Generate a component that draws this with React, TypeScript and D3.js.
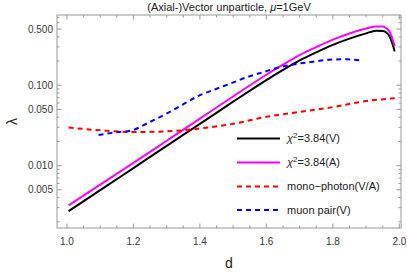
import React, { useEffect } from 'react';
import * as d3 from 'd3';

// chi^2 = 3.84 limit, vector unparticle
const vectorD = [1.005, 1.1, 1.2, 1.3, 1.4, 1.5, 1.6, 1.65, 1.7, 1.75, 1.8, 1.85, 1.9, 1.93, 1.95, 1.96, 1.97, 1.978, 1.986];
const vectorLambda = [0.00272, 0.00495, 0.00933, 0.0176, 0.0331, 0.0625, 0.116, 0.155, 0.204, 0.257, 0.318, 0.38, 0.442, 0.476, 0.472, 0.455, 0.41, 0.34, 0.264];

// chi^2 = 3.84 limit, axial-vector unparticle
const axialD = [1.005, 1.1, 1.2, 1.3, 1.4, 1.5, 1.6, 1.65, 1.7, 1.75, 1.8, 1.85, 1.9, 1.93, 1.95, 1.96, 1.97, 1.978, 1.986];
const axialLambda = [0.0032, 0.0058, 0.0108, 0.0204, 0.0385, 0.0725, 0.135, 0.18, 0.237, 0.298, 0.369, 0.441, 0.508, 0.54, 0.537, 0.515, 0.47, 0.39, 0.305];

// mono-photon (V/A)
const photonD = [1.005, 1.1, 1.2, 1.3, 1.35, 1.4, 1.5, 1.6, 1.7, 1.8, 1.9, 1.986];
const photonLambda = [0.0298, 0.0275, 0.0262, 0.0267, 0.0275, 0.029, 0.0331, 0.0405, 0.0465, 0.0535, 0.0635, 0.069];

// muon pair (V)
const muonD = [1.095, 1.15, 1.196, 1.246, 1.296, 1.347, 1.396, 1.447, 1.492, 1.539, 1.589, 1.639, 1.689, 1.74, 1.789, 1.84, 1.89];
const muonLambda = [0.0241, 0.026, 0.0275, 0.0344, 0.0436, 0.057, 0.0738, 0.0893, 0.105, 0.125, 0.145, 0.167, 0.184, 0.196, 0.208, 0.21, 0.203];

const xMajor = [1.0, 1.2, 1.4, 1.6, 1.8, 2.0];
const xMinor = [1.05, 1.1, 1.15, 1.25, 1.3, 1.35, 1.45, 1.5, 1.55, 1.65, 1.7, 1.75, 1.85, 1.9, 1.95];
const yMajor = [0.005, 0.01, 0.05, 0.1, 0.5];
const yMinor = [0.002, 0.003, 0.004, 0.006, 0.007, 0.008, 0.009, 0.02, 0.03, 0.04, 0.06, 0.07, 0.08, 0.09, 0.2, 0.3, 0.4, 0.6, 0.7];

const series = [
  { label: 'V', d: vectorD, v: vectorLambda, color: '#000000', dash: null },
  { label: 'A', d: axialD, v: axialLambda, color: '#ff00ff', dash: null },
  { label: 'mono-photon', d: photonD, v: photonLambda, color: '#ff0000', dash: '5,4' },
  { label: 'muon', d: muonD, v: muonLambda, color: '#0000ff', dash: '5,4' },
];

const W = 407, H = 274;
const left = 57, right = 401, top = 15, bottom = 228;
const font = '"Liberation Sans", Arial, sans-serif';

export default function App() {
  useEffect(() => {
    document.body.style.margin = '0';
  }, []);

  const x = d3.scaleLinear().domain([0.97, 2.005]).range([left, right]);
  const y = d3.scaleLog().domain([0.001675, 0.748]).range([bottom, top]);

  const line = (ds: number[], vs: number[]) =>
    d3.line<number>()
      .x((_, i) => x(ds[i]))
      .y((v) => y(v))
      .curve(d3.curveMonotoneX)(vs) || '';

  const frame = '#9a9a9a';
  const tickText = '#3c3c3c';

  const legendRows = [
    { color: '#000000', dash: null, text: <><tspan fontStyle="italic">χ</tspan><tspan dy={-4} fontSize={8}>2</tspan><tspan dy={4}>=3.84(V)</tspan></> },
    { color: '#ff00ff', dash: null, text: <><tspan fontStyle="italic">χ</tspan><tspan dy={-4} fontSize={8}>2</tspan><tspan dy={4}>=3.84(A)</tspan></> },
    { color: '#ff0000', dash: '5,4', text: <>mono−photon(V/A)</> },
    { color: '#0000ff', dash: '5,4', text: <>muon pair(V)</> },
  ];
  const legendY = [138.5, 162.5, 186.5, 210];

  return (
    <svg width={W} height={H} style={{ display: 'block', position: 'absolute', left: 0, top: 0, background: '#fff' }} fontFamily={font}>
      <defs>
        <clipPath id="plotClip">
          <rect x={left} y={top} width={right - left} height={bottom - top} />
        </clipPath>
      </defs>

      {/* title */}
      <text x={(left + right) / 2} y={11} textAnchor="middle" fontSize={11} fill="#222">
        (Axial-)Vector unparticle, <tspan fontStyle="italic">μ</tspan>=1GeV
      </text>

      {/* frame */}
      <rect x={left} y={top} width={right - left} height={bottom - top} fill="none" stroke={frame} strokeWidth={1} />

      {/* x ticks, bottom and top */}
      {xMajor.map((t) => (
        <g key={'xM' + t}>
          <line x1={x(t)} x2={x(t)} y1={bottom} y2={bottom - 4.5} stroke={frame} />
          <line x1={x(t)} x2={x(t)} y1={top} y2={top + 4.5} stroke={frame} />
          <text x={x(t)} y={245} textAnchor="middle" fontSize={10} fill={tickText}>{t.toFixed(1)}</text>
        </g>
      ))}
      {xMinor.map((t) => (
        <g key={'xm' + t}>
          <line x1={x(t)} x2={x(t)} y1={bottom} y2={bottom - 2.5} stroke={frame} />
          <line x1={x(t)} x2={x(t)} y1={top} y2={top + 2.5} stroke={frame} />
        </g>
      ))}

      {/* y ticks, left and right */}
      {yMajor.map((t) => (
        <g key={'yM' + t}>
          <line x1={left} x2={left + 4.5} y1={y(t)} y2={y(t)} stroke={frame} />
          <line x1={right} x2={right - 4.5} y1={y(t)} y2={y(t)} stroke={frame} />
          <text x={53} y={y(t)} dy="0.35em" textAnchor="end" fontSize={10} fill={tickText}>{t.toFixed(3)}</text>
        </g>
      ))}
      {yMinor.map((t) => (
        <g key={'ym' + t}>
          <line x1={left} x2={left + 2.5} y1={y(t)} y2={y(t)} stroke={frame} />
          <line x1={right} x2={right - 2.5} y1={y(t)} y2={y(t)} stroke={frame} />
        </g>
      ))}

      {/* axis labels */}
      <text x={(left + right) / 2} y={268} textAnchor="middle" fontSize={14} fill="#222">d</text>
      <text transform={`translate(17,${(top + bottom) / 2}) rotate(-90)`} textAnchor="middle" fontSize={14} fill="#222">λ</text>

      {/* curves */}
      <g clipPath="url(#plotClip)">
        {series.map((s) => (
          <path key={s.label} d={line(s.d, s.v)} fill="none" stroke={s.color} strokeWidth={2}
            strokeDasharray={s.dash || undefined} />
        ))}
      </g>

      {/* legend */}
      {legendRows.map((r, i) => (
        <g key={'lg' + i}>
          <line x1={237} x2={280} y1={legendY[i]} y2={legendY[i]} stroke={r.color} strokeWidth={2}
            strokeDasharray={r.dash || undefined} />
          <text x={287} y={legendY[i]} dy="0.35em" fontSize={11} fill="#222">{r.text}</text>
        </g>
      ))}
    </svg>
  );
}
